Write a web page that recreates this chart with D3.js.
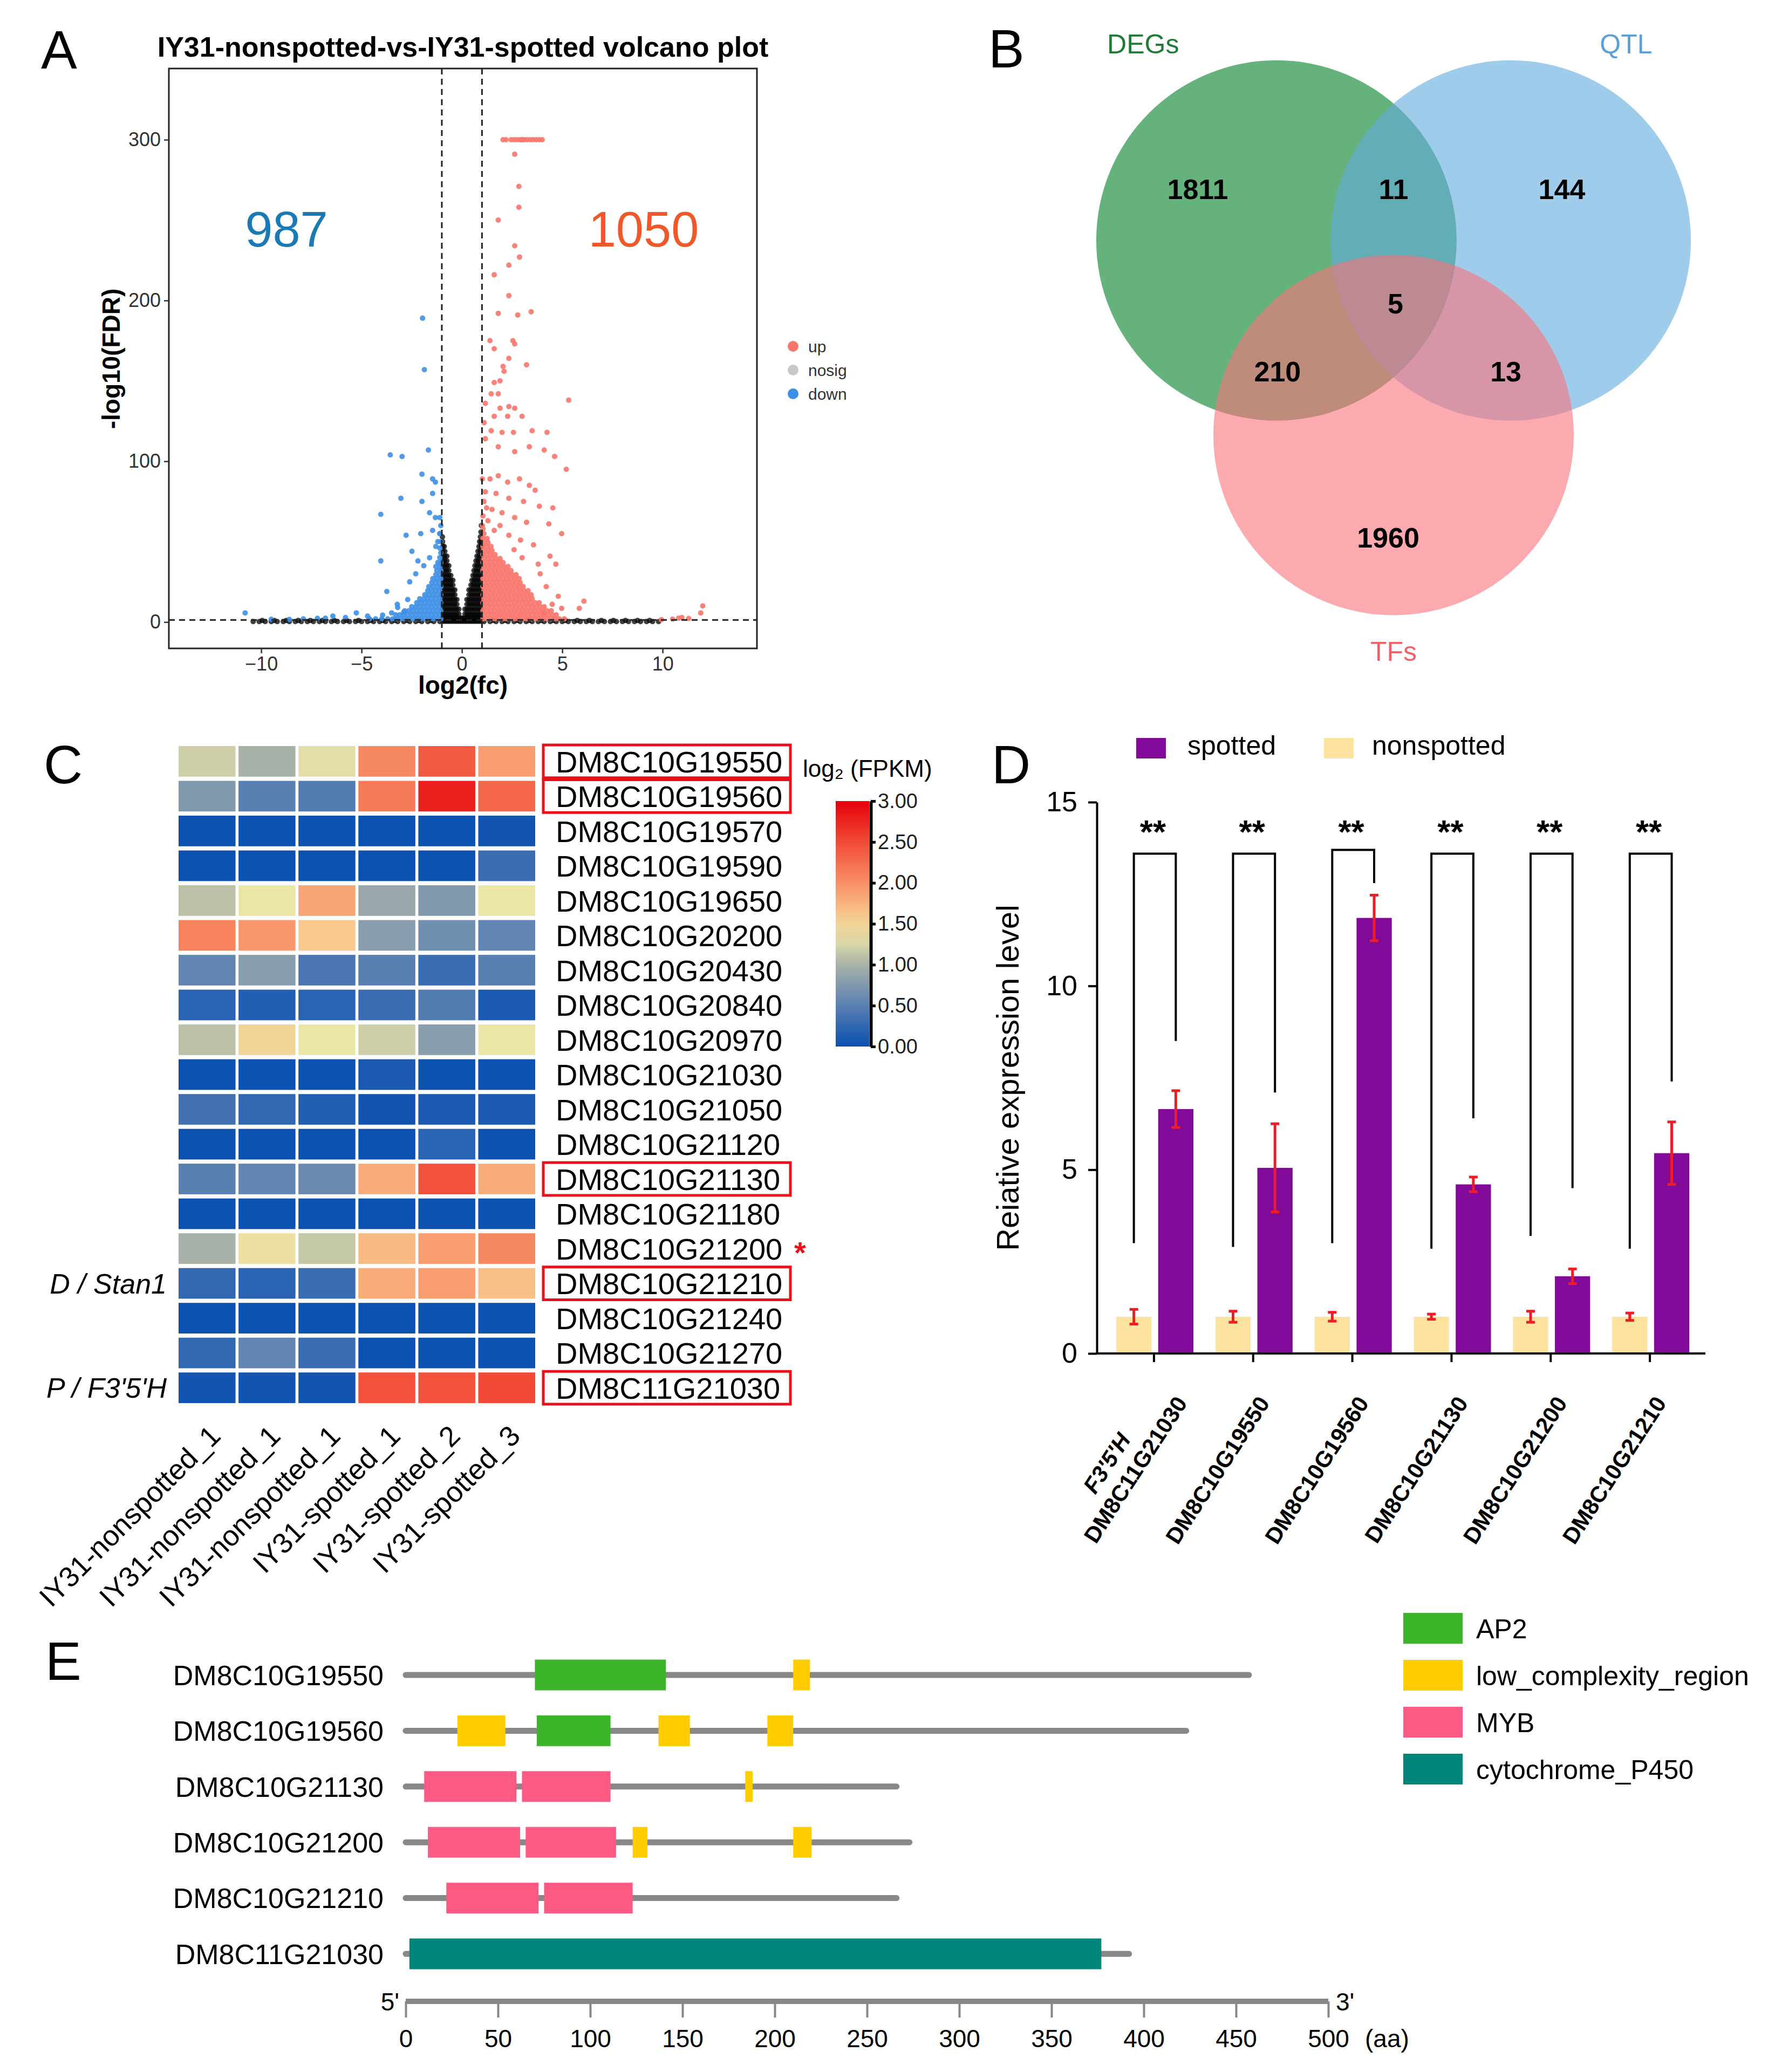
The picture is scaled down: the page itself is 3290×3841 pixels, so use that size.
<!DOCTYPE html>
<html>
<head>
<meta charset="utf-8">
<script src="https://cdn.jsdelivr.net/npm/d3@7"></script>
<style>
  body { margin: 0; background: #fff; }
  svg { display: block; }
</style>
</head>
<body>
<svg id="fig" width="3290" height="3841"></svg>
<script>
// ---------- A: volcano ----------
let volcanoTitle = "IY31-nonspotted-vs-IY31-spotted volcano plot";
let volcanoCounts = [987, 1050];
let volcanoXTicks = [-10, -5, 0, 5, 10];
let volcanoYTicks = [0, 100, 200, 300];
let volcanoLegend = ["up", "nosig", "down"];

// isolated points, [log2fc, -log10FDR]
let upPoints = [
  [2.05,300],[2.2,300],[2.45,300],[2.6,300],[2.75,300],[2.9,300],[3.0,300],[3.1,300],[3.25,300],[3.4,300],[3.55,300],[3.7,300],[3.85,300],[4.0,300],
  [2.63,291],[2.84,271],[2.84,258],[1.81,250],[2.63,234],[2.87,227],[2.34,222],[1.61,216],[2.34,203],[1.81,192],[2.78,191],[3.45,193],
  [1.4,175],[2.54,175],[2.63,173],[1.61,170],[2.34,164],[3.22,160],[2.05,159],[2.1,156],[1.61,149],[1.9,150],[1.46,142],[1.81,142],
  [5.32,138],[1.17,136],[1.9,133],[2.34,134],[2.63,133],[1.61,128],[2.28,128],[3.0,128],[1.11,124],[1.46,119],[2.0,118],[2.57,118],
  [3.5,119],[4.24,118],[1.17,114],[1.81,109],[2.63,106],[3.36,109],[4.1,107],[4.62,103],[5.2,95],[1.02,89],[1.4,89],[1.81,91],
  [2.28,87],[2.87,89],[3.36,85],[3.65,82],[1.17,81],[1.7,80],[2.34,77],[3.07,75],[3.86,72],[4.53,71],[1.23,71],[2.0,68],[2.63,65],
  [3.22,62],[4.33,61],[4.97,55],[1.02,60],[1.61,57],[2.34,54],[2.92,51],[3.57,48],[4.39,41],[4.68,36],[6.08,13],[5.85,8.5],
  [12.0,10],[11.9,5.7],[10.96,2.8],[10.5,1.8],[9.94,1.5],[4.97,8.5],[4.5,11],[4.1,5.7],[11.3,2.2],[10.8,2.5],
  [1.05,66],[1.3,63],[1.1,75],[1.5,70],[1.9,60],[2.6,45],[3.0,40],[3.9,30],[4.2,22],[4.8,16],[3.8,36]
];
let downPoints = [
  [-1.96,189],[-1.87,157],[-3.57,104],[-2.98,103],[-1.67,107],[-1.99,92],[-1.46,89],[-1.32,87],[-3.04,77],[-1.99,75],[-1.46,80],
  [-4.04,67],[-1.61,68],[-1.32,65],[-2.78,54],[-2.05,55],[-1.46,57],[-4.04,38],[-2.49,44],[-2.19,38],[-1.61,40],[-3.74,19],
  [-3.22,11],[-5.26,5.7],[-6.43,3.7],[-10.8,5.7],[-9.5,1.7],[-7.9,2],[-7.2,2.3],[-5.8,2.8],[-4.7,3.7],[-3.95,4.3],[-3.5,5.7],
  [-2.9,6.2],[-1.2,50],[-1.1,55],[-1.3,47],[-2.3,30],[-2.6,25],[-1.9,35],[-8.6,1.6],[-6.8,2.4],[-2.7,14],[-3.2,9]
];
// dense clouds, read row by row: [-log10FDR, [log2fc ...]]
let upRows = [
  [2, [1.05,1.25,1.45,1.65,1.85,2.05,2.25,2.45,2.65,2.85,3.05,3.25,3.45,3.65,3.85,4.05,4.25,4.45,4.65,4.85,5.1]],
  [4.5, [1.1,1.3,1.5,1.7,1.9,2.1,2.3,2.5,2.7,2.9,3.1,3.3,3.5,3.7,3.9,4.1,4.3,4.5,4.7]],
  [7, [1.05,1.25,1.45,1.65,1.85,2.05,2.25,2.45,2.65,2.85,3.05,3.25,3.45,3.65,3.85,4.05,4.25,4.45]],
  [9.5, [1.1,1.3,1.5,1.7,1.9,2.1,2.3,2.5,2.7,2.9,3.1,3.3,3.5,3.7,3.9,4.1]],
  [12, [1.05,1.25,1.45,1.65,1.85,2.05,2.25,2.45,2.65,2.85,3.05,3.25,3.45,3.65,3.85]],
  [14.5, [1.1,1.3,1.5,1.7,1.9,2.1,2.3,2.5,2.7,2.9,3.1,3.3,3.5]],
  [17, [1.05,1.25,1.45,1.65,1.85,2.05,2.25,2.45,2.65,2.85,3.05,3.25,3.45]],
  [19.5, [1.1,1.3,1.5,1.7,1.9,2.1,2.3,2.5,2.7,2.9,3.1,3.3]],
  [22, [1.05,1.25,1.45,1.65,1.85,2.05,2.25,2.45,2.65,2.85,3.05]],
  [24.5, [1.1,1.3,1.5,1.7,1.9,2.1,2.3,2.5,2.7,2.9]],
  [27, [1.05,1.25,1.45,1.65,1.85,2.05,2.25,2.45,2.65,2.85]],
  [29.5, [1.1,1.3,1.5,1.7,1.9,2.1,2.3,2.5,2.7]],
  [32, [1.05,1.25,1.45,1.65,1.85,2.05,2.25,2.45]],
  [34.5, [1.1,1.3,1.5,1.7,1.9,2.1,2.3]],
  [37, [1.05,1.25,1.45,1.65,1.85,2.05]],
  [39.5, [1.1,1.3,1.5,1.7,1.9]],
  [42, [1.05,1.25,1.45,1.65]],
  [44.5, [1.1,1.3,1.5]],
  [47, [1.05,1.25,1.45]],
  [49.5, [1.1,1.3]],
  [52, [1.05,1.25]],
  [55, [1.1]],
  [58, [1.05]]
];
let downRows = [
  [2, [-1.05,-1.25,-1.45,-1.65,-1.85,-2.05,-2.25,-2.45,-2.65,-2.85,-3.05,-3.25,-3.45,-3.7,-4.0,-4.3,-4.6]],
  [4.5, [-1.1,-1.3,-1.5,-1.7,-1.9,-2.1,-2.3,-2.5,-2.7,-2.9,-3.1,-3.3]],
  [7, [-1.05,-1.25,-1.45,-1.65,-1.85,-2.05,-2.25,-2.45,-2.65,-2.85]],
  [9.5, [-1.1,-1.3,-1.5,-1.7,-1.9,-2.1,-2.3,-2.5]],
  [12, [-1.05,-1.25,-1.45,-1.65,-1.85,-2.05,-2.25]],
  [14.5, [-1.1,-1.3,-1.5,-1.7,-1.9,-2.1]],
  [17, [-1.05,-1.25,-1.45,-1.65,-1.85]],
  [19.5, [-1.1,-1.3,-1.5,-1.7]],
  [22, [-1.05,-1.25,-1.45,-1.65]],
  [24.5, [-1.1,-1.3,-1.5]],
  [27, [-1.05,-1.25,-1.45]],
  [29.5, [-1.1,-1.3]],
  [32, [-1.05,-1.25]],
  [34.5, [-1.1,-1.3]],
  [37, [-1.05,-1.2]],
  [40, [-1.1]],
  [43, [-1.05]],
  [46, [-1.1]],
  [50, [-1.05]],
  [55, [-1.1]],
  [60, [-1.05]],
  [65, [-1.1]]
];
let nosigRows = [
  [0.3, [-10.4,-10.1,-9.8,-9.5,-9.2,-8.9,-8.6,-8.3,-8.0,-7.7,-7.4,-7.1,-6.8,-6.5,-6.2,-5.9,-5.6,-5.3,-5.0,-4.7,-4.4,-4.1,-3.8,-3.5,-3.2,-2.9,-2.6,-2.3,-2.0,-1.7,-1.4,-1.1,
          1.1,1.4,1.7,2.0,2.3,2.6,2.9,3.2,3.5,3.8,4.1,4.4,4.7,5.0,5.3,5.6,5.9,6.2,6.5,6.8,7.1,7.4,7.7,8.0,8.3,8.6,8.9,9.2,9.5,9.8]],
  [1.0, [-9.95,-9.35,-8.75,-8.15,-7.55,-6.95,-6.35,-5.75,-5.15,-4.55,-3.95,-3.35,-2.75,-2.15,-1.55,1.55,2.15,2.75,3.35,3.95,4.55,5.15,5.75,6.35,6.95,7.55,8.15,8.75,9.35]],
  [0.5, [-0.95,-0.85,-0.75,-0.65,-0.55,-0.45,-0.35,-0.25,-0.15,-0.05,0.05,0.15,0.25,0.35,0.45,0.55,0.65,0.75,0.85,0.95]],
  [2.5, [-0.95,-0.85,-0.75,-0.65,-0.55,-0.45,-0.35,-0.25,-0.15,-0.05,0.05,0.15,0.25,0.35,0.45,0.55,0.65,0.75,0.85,0.95]],
  [5, [-0.95,-0.85,-0.75,-0.65,-0.55,-0.45,-0.35,-0.25,-0.15,0.15,0.25,0.35,0.45,0.55,0.65,0.75,0.85,0.95]],
  [8, [-0.95,-0.85,-0.75,-0.65,-0.55,-0.45,-0.35,-0.25,-0.15,0.15,0.25,0.35,0.45,0.55,0.65,0.75,0.85,0.95]],
  [11, [-0.95,-0.85,-0.75,-0.65,-0.55,-0.45,-0.35,-0.25,0.25,0.35,0.45,0.55,0.65,0.75,0.85,0.95]],
  [14, [-0.95,-0.85,-0.75,-0.65,-0.55,-0.45,-0.35,-0.25,0.25,0.35,0.45,0.55,0.65,0.75,0.85,0.95]],
  [17, [-0.95,-0.85,-0.75,-0.65,-0.55,-0.45,-0.35,0.35,0.45,0.55,0.65,0.75,0.85,0.95]],
  [20, [-0.95,-0.85,-0.75,-0.65,-0.55,-0.45,-0.35,0.35,0.45,0.55,0.65,0.75,0.85,0.95]],
  [23, [-0.95,-0.85,-0.75,-0.65,-0.55,-0.45,0.45,0.55,0.65,0.75,0.85,0.95]],
  [26, [-0.95,-0.85,-0.75,-0.65,-0.55,-0.45,0.5,0.6,0.7,0.8,0.9]],
  [29, [-0.95,-0.85,-0.75,-0.65,-0.55,0.55,0.65,0.75,0.85,0.95]],
  [32, [-0.95,-0.85,-0.75,-0.65,0.6,0.7,0.8,0.9]],
  [35, [-0.95,-0.85,-0.75,-0.65,0.65,0.75,0.85,0.95]],
  [38, [-0.95,-0.85,-0.75,0.7,0.8,0.9]],
  [41, [-0.95,-0.85,-0.75,0.75,0.85,0.95]],
  [44, [-0.95,-0.85,0.8,0.9]],
  [47, [-0.95,-0.88,0.85,0.95]],
  [50, [-0.96,0.88,0.96]],
  [53, [-0.97,0.92]],
  [56, [0.95]],
  [60, [0.97]]
];

// ---------- B: venn ----------
let vennSets = ["DEGs", "QTL", "TFs"];
let vennRegions = ["DEGs", "DEGs&QTL", "QTL", "DEGs&QTL&TFs", "DEGs&TFs", "QTL&TFs", "TFs"];
let vennCounts = [1811, 11, 144, 5, 210, 13, 1960];

// ---------- C: heatmap ----------
let hmGenes = ["DM8C10G19550","DM8C10G19560","DM8C10G19570","DM8C10G19590","DM8C10G19650","DM8C10G20200",
  "DM8C10G20430","DM8C10G20840","DM8C10G20970","DM8C10G21030","DM8C10G21050","DM8C10G21120","DM8C10G21130",
  "DM8C10G21180","DM8C10G21200","DM8C10G21210","DM8C10G21240","DM8C10G21270","DM8C11G21030"];
let hmSamples = ["IY31-nonspotted_1","IY31-nonspotted_1","IY31-nonspotted_1","IY31-spotted_1","IY31-spotted_2","IY31-spotted_3"];
let hmValues = [
  [1.2, 1.0, 1.3, 2.05, 2.4, 1.9],
  [0.75, 0.5, 0.45, 2.15, 2.8, 2.3],
  [0.02, 0.02, 0.02, 0.02, 0.02, 0.05],
  [0.02, 0.02, 0.02, 0.02, 0.02, 0.3],
  [1.1, 1.35, 1.85, 0.9, 0.75, 1.35],
  [2.1, 1.95, 1.6, 0.8, 0.65, 0.55],
  [0.55, 0.8, 0.4, 0.5, 0.3, 0.5],
  [0.2, 0.15, 0.2, 0.3, 0.45, 0.1],
  [1.1, 1.5, 1.35, 1.2, 0.8, 1.35],
  [0.02, 0.02, 0.02, 0.1, 0.02, 0.02],
  [0.35, 0.25, 0.15, 0.05, 0.1, 0.1],
  [0.02, 0.02, 0.02, 0.02, 0.2, 0.02],
  [0.5, 0.55, 0.6, 1.8, 2.45, 1.8],
  [0.02, 0.02, 0.02, 0.02, 0.02, 0.02],
  [1.0, 1.4, 1.15, 1.7, 1.9, 2.05],
  [0.25, 0.2, 0.3, 1.8, 1.9, 1.65],
  [0.02, 0.02, 0.02, 0.02, 0.02, 0.02],
  [0.25, 0.55, 0.3, 0.02, 0.02, 0.02],
  [0.05, 0.05, 0.05, 2.45, 2.45, 2.5]
];
let hmBoxed = ["DM8C10G19550","DM8C10G19560","DM8C10G21130","DM8C10G21210","DM8C11G21030"];
let hmStarred = ["DM8C10G21200"];
let hmNotes = [["DM8C10G21210", "D / Stan1"], ["DM8C11G21030", "P / F3'5'H"]];
let hmLegendTicks = [0, 0.5, 1, 1.5, 2, 2.5, 3];

// ---------- D: qPCR ----------
let qpcrGenes = ["DM8C11G21030","DM8C10G19550","DM8C10G19560","DM8C10G21130","DM8C10G21200","DM8C10G21210"];
let qpcrNonspotted = [1.0, 1.0, 1.0, 1.0, 1.0, 1.0];
let qpcrNonspottedErr = [0.2, 0.15, 0.12, 0.07, 0.15, 0.1];
let qpcrSpotted = [6.65, 5.05, 11.85, 4.6, 2.1, 5.45];
let qpcrSpottedErr = [0.5, 1.2, 0.62, 0.2, 0.2, 0.85];
let bracketTop = [13.6, 13.6, 13.7, 13.6, 13.6, 13.6];
let bracketLeft = [3.0, 2.9, 3.0, 2.85, 3.2, 2.85];
let bracketRight = [8.5, 7.1, 12.8, 6.4, 4.5, 7.4];
let qpcrYTicks = [0, 5, 10, 15];

// ---------- E: protein domains ----------
let proteins = ["DM8C10G19550","DM8C10G19560","DM8C10G21130","DM8C10G21200","DM8C10G21210","DM8C11G21030"];
let proteinLength = [457, 423, 266, 273, 266, 392];
let domainTypes = ["AP2", "low_complexity_region", "MYB", "cytochrome_P450"];
let domains = [
  ["DM8C10G19550","AP2",70,141], ["DM8C10G19550","low_complexity_region",210,219],
  ["DM8C10G19560","low_complexity_region",28,54], ["DM8C10G19560","AP2",71,111],
  ["DM8C10G19560","low_complexity_region",137,154], ["DM8C10G19560","low_complexity_region",196,210],
  ["DM8C10G21130","MYB",10,60], ["DM8C10G21130","MYB",63,111], ["DM8C10G21130","low_complexity_region",184,188],
  ["DM8C10G21200","MYB",12,62], ["DM8C10G21200","MYB",65,114],
  ["DM8C10G21200","low_complexity_region",123,131], ["DM8C10G21200","low_complexity_region",210,220],
  ["DM8C10G21210","MYB",22,72], ["DM8C10G21210","MYB",75,123],
  ["DM8C11G21030","cytochrome_P450",2,377]
];
let aaTicks = [0, 50, 100, 150, 200, 250, 300, 350, 400, 450, 500];

const FONT = "'Liberation Sans', Arial, Helvetica, sans-serif";
let svg = d3.select("#fig").style("font-family", FONT);

drawVolcano();
drawVenn();
drawHeatmap();
drawQpcr();
drawDomains();
drawPanelLetters();

function drawPanelLetters() {
  let letters = [["A", 76, 127], ["B", 1832, 125], ["C", 81, 1452], ["D", 1838, 1452], ["E", 84, 3114]];
  svg.append("g").selectAll("text").data(letters).enter().append("text")
    .attr("x", (d) => d[1]).attr("y", (d) => d[2])
    .attr("font-size", 100).attr("fill", "#000").text((d) => d[0]);
}

function drawVolcano() {
  let x = d3.scaleLinear().domain([-14.6, 14.7]).range([313, 1403]);
  let y = d3.scaleLinear().domain([-16.4, 344.3]).range([1202, 127]);
  let g = svg.append("g");
  let flat = (rows) => rows.flatMap(([v, xs]) => xs.map((u) => [u, v]));

  g.append("text").attr("x", 858).attr("y", 105).attr("text-anchor", "middle")
    .attr("font-size", 52).attr("font-weight", "bold").text(volcanoTitle);

  let layers = [
    { pts: flat(nosigRows), color: "#000", op: 0.75 },
    { pts: downPoints.concat(flat(downRows)), color: "#3d8fe5", op: 0.9 },
    { pts: upPoints.concat(flat(upRows)), color: "#f8766d", op: 0.9 },
  ];
  layers.forEach((l) => {
    g.append("g").selectAll("circle").data(l.pts).enter().append("circle")
      .attr("cx", (d) => x(d[0])).attr("cy", (d) => y(d[1])).attr("r", 5)
      .attr("fill", l.color).attr("fill-opacity", l.op);
  });

  let dash = "11,8";
  [-1, 1].forEach((v) => {
    g.append("line").attr("x1", x(v)).attr("x2", x(v)).attr("y1", 127).attr("y2", 1202)
      .attr("stroke", "#222").attr("stroke-width", 3).attr("stroke-dasharray", dash);
  });
  g.append("line").attr("x1", 313).attr("x2", 1403).attr("y1", y(1.3)).attr("y2", y(1.3))
    .attr("stroke", "#222").attr("stroke-width", 3).attr("stroke-dasharray", dash);

  g.append("rect").attr("x", 313).attr("y", 127).attr("width", 1090).attr("height", 1075)
    .attr("fill", "none").attr("stroke", "#222").attr("stroke-width", 3);

  let yAxis = d3.axisLeft(y).tickValues(volcanoYTicks).tickSize(9).tickPadding(6);
  let xAxis = d3.axisBottom(x).tickValues(volcanoXTicks).tickSize(9).tickPadding(6);
  let ga = g.append("g").attr("transform", "translate(313,0)").call(yAxis);
  let gb = g.append("g").attr("transform", "translate(0,1202)").call(xAxis);
  [ga, gb].forEach((a) => {
    a.select(".domain").remove();
    a.attr("font-size", 36).attr("font-family", FONT);
    a.selectAll("line").attr("stroke", "#333").attr("stroke-width", 2.5);
    a.selectAll("text").attr("fill", "#333");
  });

  g.append("text").attr("x", 858).attr("y", 1286).attr("text-anchor", "middle")
    .attr("font-size", 46).attr("font-weight", "bold").text("log2(fc)");
  g.append("text").attr("transform", "translate(222,665) rotate(-90)").attr("text-anchor", "middle")
    .attr("font-size", 46).attr("font-weight", "bold").text("-log10(FDR)");

  g.append("text").attr("x", 531).attr("y", 457).attr("text-anchor", "middle")
    .attr("font-size", 92).attr("fill", "#1a7ab6").text(volcanoCounts[0]);
  g.append("text").attr("x", 1193).attr("y", 457).attr("text-anchor", "middle")
    .attr("font-size", 92).attr("fill", "#f0582a").text(volcanoCounts[1]);

  let legColors = ["#f8766d", "#c8c8c8", "#3d8fe5"];
  let leg = g.append("g").selectAll("g").data(volcanoLegend).enter().append("g")
    .attr("transform", (d, i) => `translate(1470,${642 + i * 44})`);
  leg.append("circle").attr("r", 10).attr("fill", (d, i) => legColors[i]);
  leg.append("text").attr("x", 28).attr("dy", "0.35em").attr("font-size", 30).attr("fill", "#333").text((d) => d);
}

function drawVenn() {
  let r = 334;
  let vx = d3.scaleLinear().domain([-1, 1]).range([2583 - r, 2583 + r]);
  let vy = d3.scaleLinear().domain([-1, 1]).range([566 - r, 566 + r]);
  let circlePos = [[-0.65, -0.36], [0.65, -0.36], [0, 0.72]];
  let labelPos = [[-1.39, -1.45], [1.29, -1.45], [0, 1.92]];
  let regionPos = [[-1.087, -0.647], [0, -0.647], [0.934, -0.647], [0.01, -0.01], [-0.644, 0.365], [0.623, 0.365], [-0.03, 1.287]];
  let fills = ["#007f25", "#61aade", "#fa717b"];
  let labelColors = ["#1f7a35", "#5aa0d2", "#f0606a"];
  let g = svg.append("g");

  g.selectAll("circle").data(vennSets).enter().append("circle")
    .attr("cx", (d, i) => vx(circlePos[i][0])).attr("cy", (d, i) => vy(circlePos[i][1]))
    .attr("r", r).attr("fill", (d, i) => fills[i]).attr("fill-opacity", 0.6);

  g.selectAll(".setlab").data(vennSets).enter().append("text")
    .attr("x", (d, i) => vx(labelPos[i][0])).attr("y", (d, i) => vy(labelPos[i][1]))
    .attr("dy", "0.35em").attr("text-anchor", "middle").attr("font-size", 50)
    .attr("fill", (d, i) => labelColors[i]).text((d) => d);

  g.selectAll(".count").data(vennRegions).enter().append("text")
    .attr("x", (d, i) => vx(regionPos[i][0])).attr("y", (d, i) => vy(regionPos[i][1]))
    .attr("dy", "0.36em").attr("text-anchor", "middle").attr("font-size", 52)
    .attr("font-weight", "bold").attr("fill", "#000").text((d, i) => vennCounts[i]);
}

function heatColor() {
  return d3.scaleLinear()
    .domain([0, 0.5, 1.0, 1.35, 1.6, 2.0, 2.5, 3.0])
    .range(["#0a4fb0", "#5a80b2", "#a8b2a8", "#ece6a6", "#f8c88e", "#f89066", "#f24a36", "#e6000c"])
    .clamp(true);
}

function drawHeatmap() {
  let color = heatColor();
  let x = d3.scaleBand().domain(d3.range(hmSamples.length)).range([331, 992]).paddingInner(0.05);
  let y = d3.scaleBand().domain(hmGenes).range([1383, 2601]).paddingInner(0.12);
  let g = svg.append("g");

  let cells = hmGenes.flatMap((gene, r) => hmValues[r].map((v, c) => ({ gene, c, v })));
  g.selectAll("rect.cell").data(cells).enter().append("rect").attr("class", "cell")
    .attr("x", (d) => x(d.c)).attr("y", (d) => y(d.gene))
    .attr("width", x.bandwidth()).attr("height", y.bandwidth())
    .attr("fill", (d) => color(d.v));

  g.selectAll("text.gene").data(hmGenes).enter().append("text").attr("class", "gene")
    .attr("x", 1030).attr("y", (d) => y(d) + y.bandwidth() / 2).attr("dy", "0.36em")
    .attr("font-size", 56).text((d) => d);

  g.selectAll("rect.box").data(hmBoxed).enter().append("rect").attr("class", "box")
    .attr("x", 1007).attr("y", (d) => y(d) - 2).attr("width", 458).attr("height", y.bandwidth() + 4)
    .attr("fill", "none").attr("stroke", "#e8101a").attr("stroke-width", 5);

  g.selectAll("text.star").data(hmStarred).enter().append("text").attr("class", "star")
    .attr("x", 1472).attr("y", (d) => y(d) + y.bandwidth() / 2 + 26)
    .attr("font-size", 56).attr("font-weight", "bold").attr("fill", "#e8101a").text("*");

  g.selectAll("text.note").data(hmNotes).enter().append("text").attr("class", "note")
    .attr("x", 309).attr("y", (d) => y(d[0]) + y.bandwidth() / 2).attr("dy", "0.36em")
    .attr("text-anchor", "end").attr("font-size", 52).attr("font-style", "italic").text((d) => d[1]);

  g.selectAll("text.sample").data(hmSamples).enter().append("text").attr("class", "sample")
    .attr("transform", (d, i) => `translate(${x(i) + x.bandwidth() / 2 + 28},2665) rotate(-45)`)
    .attr("text-anchor", "end").attr("font-size", 53).text((d) => d);

  // colour key
  let ky = d3.scaleLinear().domain([0, 3]).range([1940, 1485]);
  let grad = svg.append("defs").append("linearGradient").attr("id", "hmgrad")
    .attr("x1", 0).attr("x2", 0).attr("y1", 1).attr("y2", 0);
  d3.range(0, 3.01, 0.25).forEach((v) => {
    grad.append("stop").attr("offset", v / 3).attr("stop-color", color(v));
  });
  g.append("rect").attr("x", 1549).attr("y", 1485).attr("width", 62).attr("height", 455).attr("fill", "url(#hmgrad)");
  let kAxis = d3.axisRight(ky).tickValues(hmLegendTicks).tickFormat(d3.format(".2f")).tickSize(9).tickPadding(4).tickSizeOuter(0);
  let ka = g.append("g").attr("transform", "translate(1614,0)").call(kAxis);
  ka.attr("font-size", 38).attr("font-family", FONT);
  ka.selectAll("line").attr("stroke", "#000").attr("stroke-width", 5);
  ka.select(".domain").attr("stroke", "#000").attr("stroke-width", 6);
  ka.selectAll("text").attr("fill", "#222");
  g.append("text").attr("x", 1488).attr("y", 1440).attr("font-size", 44).text("log₂ (FPKM)");
}

function drawQpcr() {
  let x = d3.scaleBand().domain(qpcrGenes).range([2047, 3150]);
  let inner = d3.scaleBand().domain(["nonspotted", "spotted"]).range([22, 165]).paddingInner(0.16);
  let y = d3.scaleLinear().domain([0, 15]).range([2509, 1487]);
  let colors = { spotted: "#820a98", nonspotted: "#fde3a0" };
  let g = svg.append("g");

  let rows = qpcrGenes.map((gene, i) => ({
    gene,
    bars: [
      { key: "nonspotted", v: qpcrNonspotted[i], e: qpcrNonspottedErr[i] },
      { key: "spotted", v: qpcrSpotted[i], e: qpcrSpottedErr[i] },
    ],
    top: bracketTop[i], left: bracketLeft[i], right: bracketRight[i],
  }));

  let grp = g.selectAll("g.grp").data(rows).enter().append("g").attr("class", "grp")
    .attr("transform", (d) => `translate(${x(d.gene)},0)`);

  grp.selectAll("rect").data((d) => d.bars).enter().append("rect")
    .attr("x", (d) => inner(d.key)).attr("width", inner.bandwidth())
    .attr("y", (d) => y(d.v)).attr("height", (d) => y(0) - y(d.v))
    .attr("fill", (d) => colors[d.key]);

  let cx = (d) => inner(d.key) + inner.bandwidth() / 2;
  let err = grp.selectAll("g.err").data((d) => d.bars).enter().append("g").attr("class", "err")
    .attr("stroke", "#ee1c24").attr("stroke-width", 5);
  err.append("line").attr("x1", cx).attr("x2", cx).attr("y1", (d) => y(d.v - d.e)).attr("y2", (d) => y(d.v + d.e));
  err.append("line").attr("x1", (d) => cx(d) - 8).attr("x2", (d) => cx(d) + 8).attr("y1", (d) => y(d.v + d.e)).attr("y2", (d) => y(d.v + d.e));
  err.append("line").attr("x1", (d) => cx(d) - 8).attr("x2", (d) => cx(d) + 8).attr("y1", (d) => y(d.v - d.e)).attr("y2", (d) => y(d.v - d.e));

  let xl = inner("nonspotted") + inner.bandwidth() / 2;
  let xr = inner("spotted") + inner.bandwidth() / 2;
  grp.append("path")
    .attr("d", (d) => `M${xl},${y(d.left)}V${y(d.top)}H${xr}V${y(d.right)}`)
    .attr("fill", "none").attr("stroke", "#000").attr("stroke-width", 4);
  grp.append("text").attr("x", x.bandwidth() / 2 - 2).attr("y", y(14.4) + 35)
    .attr("text-anchor", "middle").attr("font-size", 62).attr("font-weight", "bold").text("**");

  let yAxis = d3.axisLeft(y).tickValues(qpcrYTicks).tickSize(16).tickPadding(20).tickSizeOuter(0);
  let ya = g.append("g").attr("transform", "translate(2033,0)").call(yAxis);
  ya.attr("font-size", 52).attr("font-family", FONT);
  ya.selectAll("line").attr("stroke", "#000").attr("stroke-width", 4);
  ya.select(".domain").attr("stroke", "#000").attr("stroke-width", 4);
  ya.selectAll("text").attr("fill", "#000");

  let xAxis = d3.axisBottom(x).tickSize(16).tickSizeOuter(0).tickFormat("");
  let xa = g.append("g").attr("transform", "translate(0,2509)").call(xAxis);
  xa.select(".domain").remove();
  xa.selectAll("line").attr("stroke", "#000").attr("stroke-width", 4);
  g.append("line").attr("x1", 2031).attr("x2", 3161).attr("y1", 2509).attr("y2", 2509)
    .attr("stroke", "#000").attr("stroke-width", 4);

  let lab = g.selectAll("text.xl").data(qpcrGenes).enter().append("text").attr("class", "xl")
    .attr("transform", (d, i) => `translate(${x(d) + x.bandwidth() / 2 + (i === 0 ? 63 : 32)},2601) rotate(-57)`)
    .attr("text-anchor", "end").attr("font-size", 42).attr("font-weight", "bold").text((d) => d);
  let first = lab.filter((d, i) => i === 0);
  let len = first.node().getComputedTextLength();
  g.append("text")
    .attr("transform", `translate(${x(qpcrGenes[0]) + x.bandwidth() / 2 + 63},2601) rotate(-57)`)
    .attr("x", -len / 2 - 19).attr("y", -51).attr("text-anchor", "middle")
    .attr("font-size", 42).attr("font-weight", "bold").attr("font-style", "italic").text("F3'5'H");

  g.append("text").attr("transform", "translate(1888,1998) rotate(-90)").attr("text-anchor", "middle")
    .attr("font-size", 58).text("Reiative expression level");

  let legend = [["spotted", 2106, 2201], ["nonspotted", 2454, 2543]];
  let lg = g.selectAll("g.leg").data(legend).enter().append("g").attr("class", "leg");
  lg.append("rect").attr("x", (d) => d[1]).attr("y", 1368).attr("width", 55).attr("height", 38)
    .attr("fill", (d) => colors[d[0]]);
  lg.append("text").attr("x", (d) => d[2]).attr("y", 1399).attr("font-size", 50).text((d) => d[0]);
}

function drawDomains() {
  let x = d3.scaleLinear().domain([0, 500]).range([752, 2462]);
  let y = d3.scalePoint().domain(proteins).range([3105, 3622]);
  let color = d3.scaleOrdinal().domain(domainTypes).range(["#3db52a", "#ffcc00", "#ff5a84", "#00877a"]);
  let h = 57;
  let g = svg.append("g");

  g.selectAll("line.prot").data(proteins).enter().append("line").attr("class", "prot")
    .attr("x1", x(0)).attr("x2", (d, i) => x(proteinLength[i]))
    .attr("y1", (d) => y(d)).attr("y2", (d) => y(d))
    .attr("stroke", "#888").attr("stroke-width", 11).attr("stroke-linecap", "round");

  g.selectAll("rect.dom").data(domains).enter().append("rect").attr("class", "dom")
    .attr("x", (d) => x(d[2])).attr("width", (d) => x(d[3]) - x(d[2]))
    .attr("y", (d) => y(d[0]) - h / 2).attr("height", h)
    .attr("fill", (d) => color(d[1]));

  g.selectAll("text.prot").data(proteins).enter().append("text").attr("class", "prot")
    .attr("x", 711).attr("y", (d) => y(d)).attr("dy", "0.36em").attr("text-anchor", "end")
    .attr("font-size", 52).text((d) => d);

  // scale bar
  g.append("line").attr("x1", x(0)).attr("x2", x(500)).attr("y1", 3710).attr("y2", 3710)
    .attr("stroke", "#888").attr("stroke-width", 10);
  let axis = d3.axisBottom(x).tickValues(aaTicks).tickSize(30).tickPadding(22);
  let a = g.append("g").attr("transform", "translate(0,3710)").call(axis);
  a.select(".domain").remove();
  a.attr("font-size", 46).attr("font-family", FONT);
  a.selectAll("line").attr("stroke", "#888").attr("stroke-width", 4);
  a.selectAll("text").attr("fill", "#000");
  g.append("text").attr("x", x(0) - 12).attr("y", 3727).attr("text-anchor", "end").attr("font-size", 46).text("5'");
  g.append("text").attr("x", x(500) + 14).attr("y", 3727).attr("font-size", 46).text("3'");
  g.append("text").attr("x", 2530).attr("y", 3795).attr("font-size", 46).text("(aa)");

  let lg = g.selectAll("g.leg").data(domainTypes).enter().append("g").attr("class", "leg")
    .attr("transform", (d, i) => `translate(2601,${2990 + i * 87})`);
  lg.append("rect").attr("width", 110).attr("height", h).attr("fill", (d) => color(d));
  lg.append("text").attr("x", 135).attr("y", h / 2).attr("dy", "0.36em").attr("font-size", 50).text((d) => d);
}
</script>
</body>
</html>
